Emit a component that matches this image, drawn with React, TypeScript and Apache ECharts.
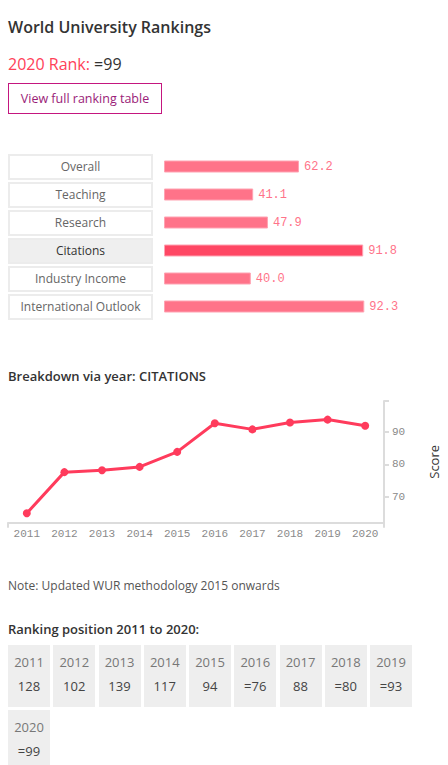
import React, { useEffect, useRef } from "react";
import * as echarts from "echarts";

// Pillar scores for 2020
const categories = ["Overall", "Teaching", "Research", "Citations", "Industry Income", "International Outlook"];
const scores = [62.2, 41.1, 47.9, 91.8, 40.0, 92.3];
const selectedPillar = "Citations";

// Citations score by year
const years = ["2011", "2012", "2013", "2014", "2015", "2016", "2017", "2018", "2019", "2020"];
const citationScores = [65.0, 77.6, 78.2, 79.2, 83.8, 92.6, 90.7, 92.8, 93.7, 91.8];
const scoreTicks = [70, 80, 90];

// Overall ranking position by year
const rankYears = ["2011", "2012", "2013", "2014", "2015", "2016", "2017", "2018", "2019", "2020"];
const rankLabels = ["128", "102", "139", "117", "94", "=76", "88", "=80", "=93", "=99"];

const FONT = "'Open Sans', 'Noto Sans', sans-serif";
const MONO = "'Liberation Mono', 'DejaVu Sans Mono', monospace";
const RED = "#ff3b5c";
const BAR = "#ff7389";
const BAR_SEL = "#ff4764";

function PillarBars() {
  const ref = useRef<HTMLDivElement>(null);
  useEffect(() => {
    const chart = echarts.init(ref.current!, null, { renderer: "svg" });
    chart.setOption({
      animation: false,
      grid: { left: 164, top: 12.5, width: 217, height: 168 },
      xAxis: { type: "value", min: 0, max: 100, show: false },
      yAxis: { type: "category", data: categories, inverse: true, show: false },
      series: [
        {
          type: "bar",
          barWidth: 12,
          data: scores.map((v, i) => ({
            value: v,
            itemStyle: {
              color: categories[i] === selectedPillar ? BAR_SEL : BAR,
              borderColor: "#ffa3b2",
              borderWidth: 1,
            },
          })),
          label: {
            show: true,
            position: "right",
            distance: 5,
            fontFamily: MONO,
            fontSize: 12,
            color: "#ff7389",
            formatter: (p: any) => Number(p.value).toFixed(1),
          },
        },
      ],
    });
    return () => chart.dispose();
  }, []);
  return <div ref={ref} style={{ position: "absolute", left: 0, top: 140, width: 448, height: 200 }} />;
}

function CitationLine() {
  const ref = useRef<HTMLDivElement>(null);
  useEffect(() => {
    const chart = echarts.init(ref.current!, null, { renderer: "svg" });
    const axisGray = "#dcdcdc";
    chart.setOption({
      animation: false,
      grid: { left: 8, right: 59, top: 21, height: 121.7 },
      xAxis: [
        {
          type: "category",
          data: years,
          boundaryGap: true,
          axisLine: { lineStyle: { color: axisGray, width: 2 } },
          axisTick: { alignWithLabel: true, length: 5, lineStyle: { color: axisGray, width: 2 } },
          axisLabel: { fontFamily: MONO, fontSize: 11, color: "#8a8a8a", margin: 6 },
        },
        {
          // end ticks at both edges of the x axis
          type: "category",
          data: [""],
          boundaryGap: true,
          position: "bottom",
          axisLine: { show: false },
          axisTick: { show: true, length: 5, lineStyle: { color: axisGray, width: 2 } },
          axisLabel: { show: false },
        },
      ],
      yAxis: {
        type: "value",
        position: "right",
        min: 62.1,
        max: 99.4,
        splitLine: { show: false },
        axisLine: { show: true, lineStyle: { color: axisGray, width: 2 } },
        axisTick: { show: true, length: 5, customValues: [...scoreTicks, 99.4], lineStyle: { color: axisGray, width: 2 } },
        axisLabel: { customValues: scoreTicks, fontFamily: MONO, fontSize: 11, color: "#8a8a8a", margin: 8 },
        name: "Score",
        nameLocation: "middle",
        nameRotate: 90,
        nameGap: 43,
        nameTextStyle: { fontFamily: FONT, fontSize: 13, color: "#333" },
      },
      series: [
        {
          type: "line",
          data: citationScores,
          symbol: "circle",
          symbolSize: 8,
          lineStyle: { color: RED, width: 3 },
          itemStyle: { color: RED },
        },
      ],
    });
    return () => chart.dispose();
  }, []);
  return <div ref={ref} style={{ position: "absolute", left: 0, top: 380, width: 448, height: 180 }} />;
}

export default function App() {
  const abs = (left: number, top: number, extra: React.CSSProperties = {}): React.CSSProperties => ({
    position: "absolute",
    left,
    top,
    ...extra,
  });
  return (
    <div style={{ position: "absolute", left: 0, top: 0, width: 448, height: 765, overflow: "hidden", fontFamily: FONT, background: "#fff" }}>
      <div style={abs(8, 15, { fontSize: 16, fontWeight: 600, color: "#333", lineHeight: "24px" })}>World University Rankings</div>
      <div style={abs(8, 52, { fontSize: 16, lineHeight: "24px", color: "#333" })}>
        <span style={{ color: "#ff4158" }}>2020 Rank:</span> =99
      </div>
      <div
        style={abs(8, 83, {
          width: 152,
          height: 29,
          border: "1px solid #c4167f",
          color: "#9a1c78",
          fontSize: 12.5,
          lineHeight: "29px",
          textAlign: "center",
        })}
      >
        View full ranking table
      </div>

      {categories.map((c, i) => (
        <div
          key={c}
          style={abs(8, 154 + i * 28, {
            width: 141,
            height: 22,
            border: "2px solid #ececec",
            background: c === selectedPillar ? "#efefef" : "#fff",
            color: c === selectedPillar ? "#333" : "#666",
            fontSize: 12,
            lineHeight: "22px",
            textAlign: "center",
          })}
        >
          {c}
        </div>
      ))}
      <PillarBars />

      <div style={abs(8, 367, { fontSize: 13, fontWeight: 600, color: "#333", lineHeight: "18px" })}>
        Breakdown via year: CITATIONS
      </div>
      <CitationLine />

      <div style={abs(8, 577, { fontSize: 12, color: "#555", lineHeight: "18px" })}>Note: Updated WUR methodology 2015 onwards</div>
      <div style={abs(8, 620, { fontSize: 13, fontWeight: 600, color: "#333", lineHeight: "18px" })}>Ranking position 2011 to 2020:</div>

      {rankYears.map((y, i) => {
        const col = i % 9;
        const row = Math.floor(i / 9);
        return (
          <div
            key={y}
            style={abs(8 + col * 45.25, 645 + row * 65, {
              width: 42,
              height: 62,
              background: "#eeeeee",
              textAlign: "center",
              fontSize: 13,
            })}
          >
            <div style={{ position: "absolute", left: 0, right: 0, top: 8, lineHeight: "18px", color: "#777" }}>{y}</div>
            <div style={{ position: "absolute", left: 0, right: 0, top: 32, lineHeight: "18px", color: "#444" }}>{rankLabels[i]}</div>
          </div>
        );
      })}
    </div>
  );
}
